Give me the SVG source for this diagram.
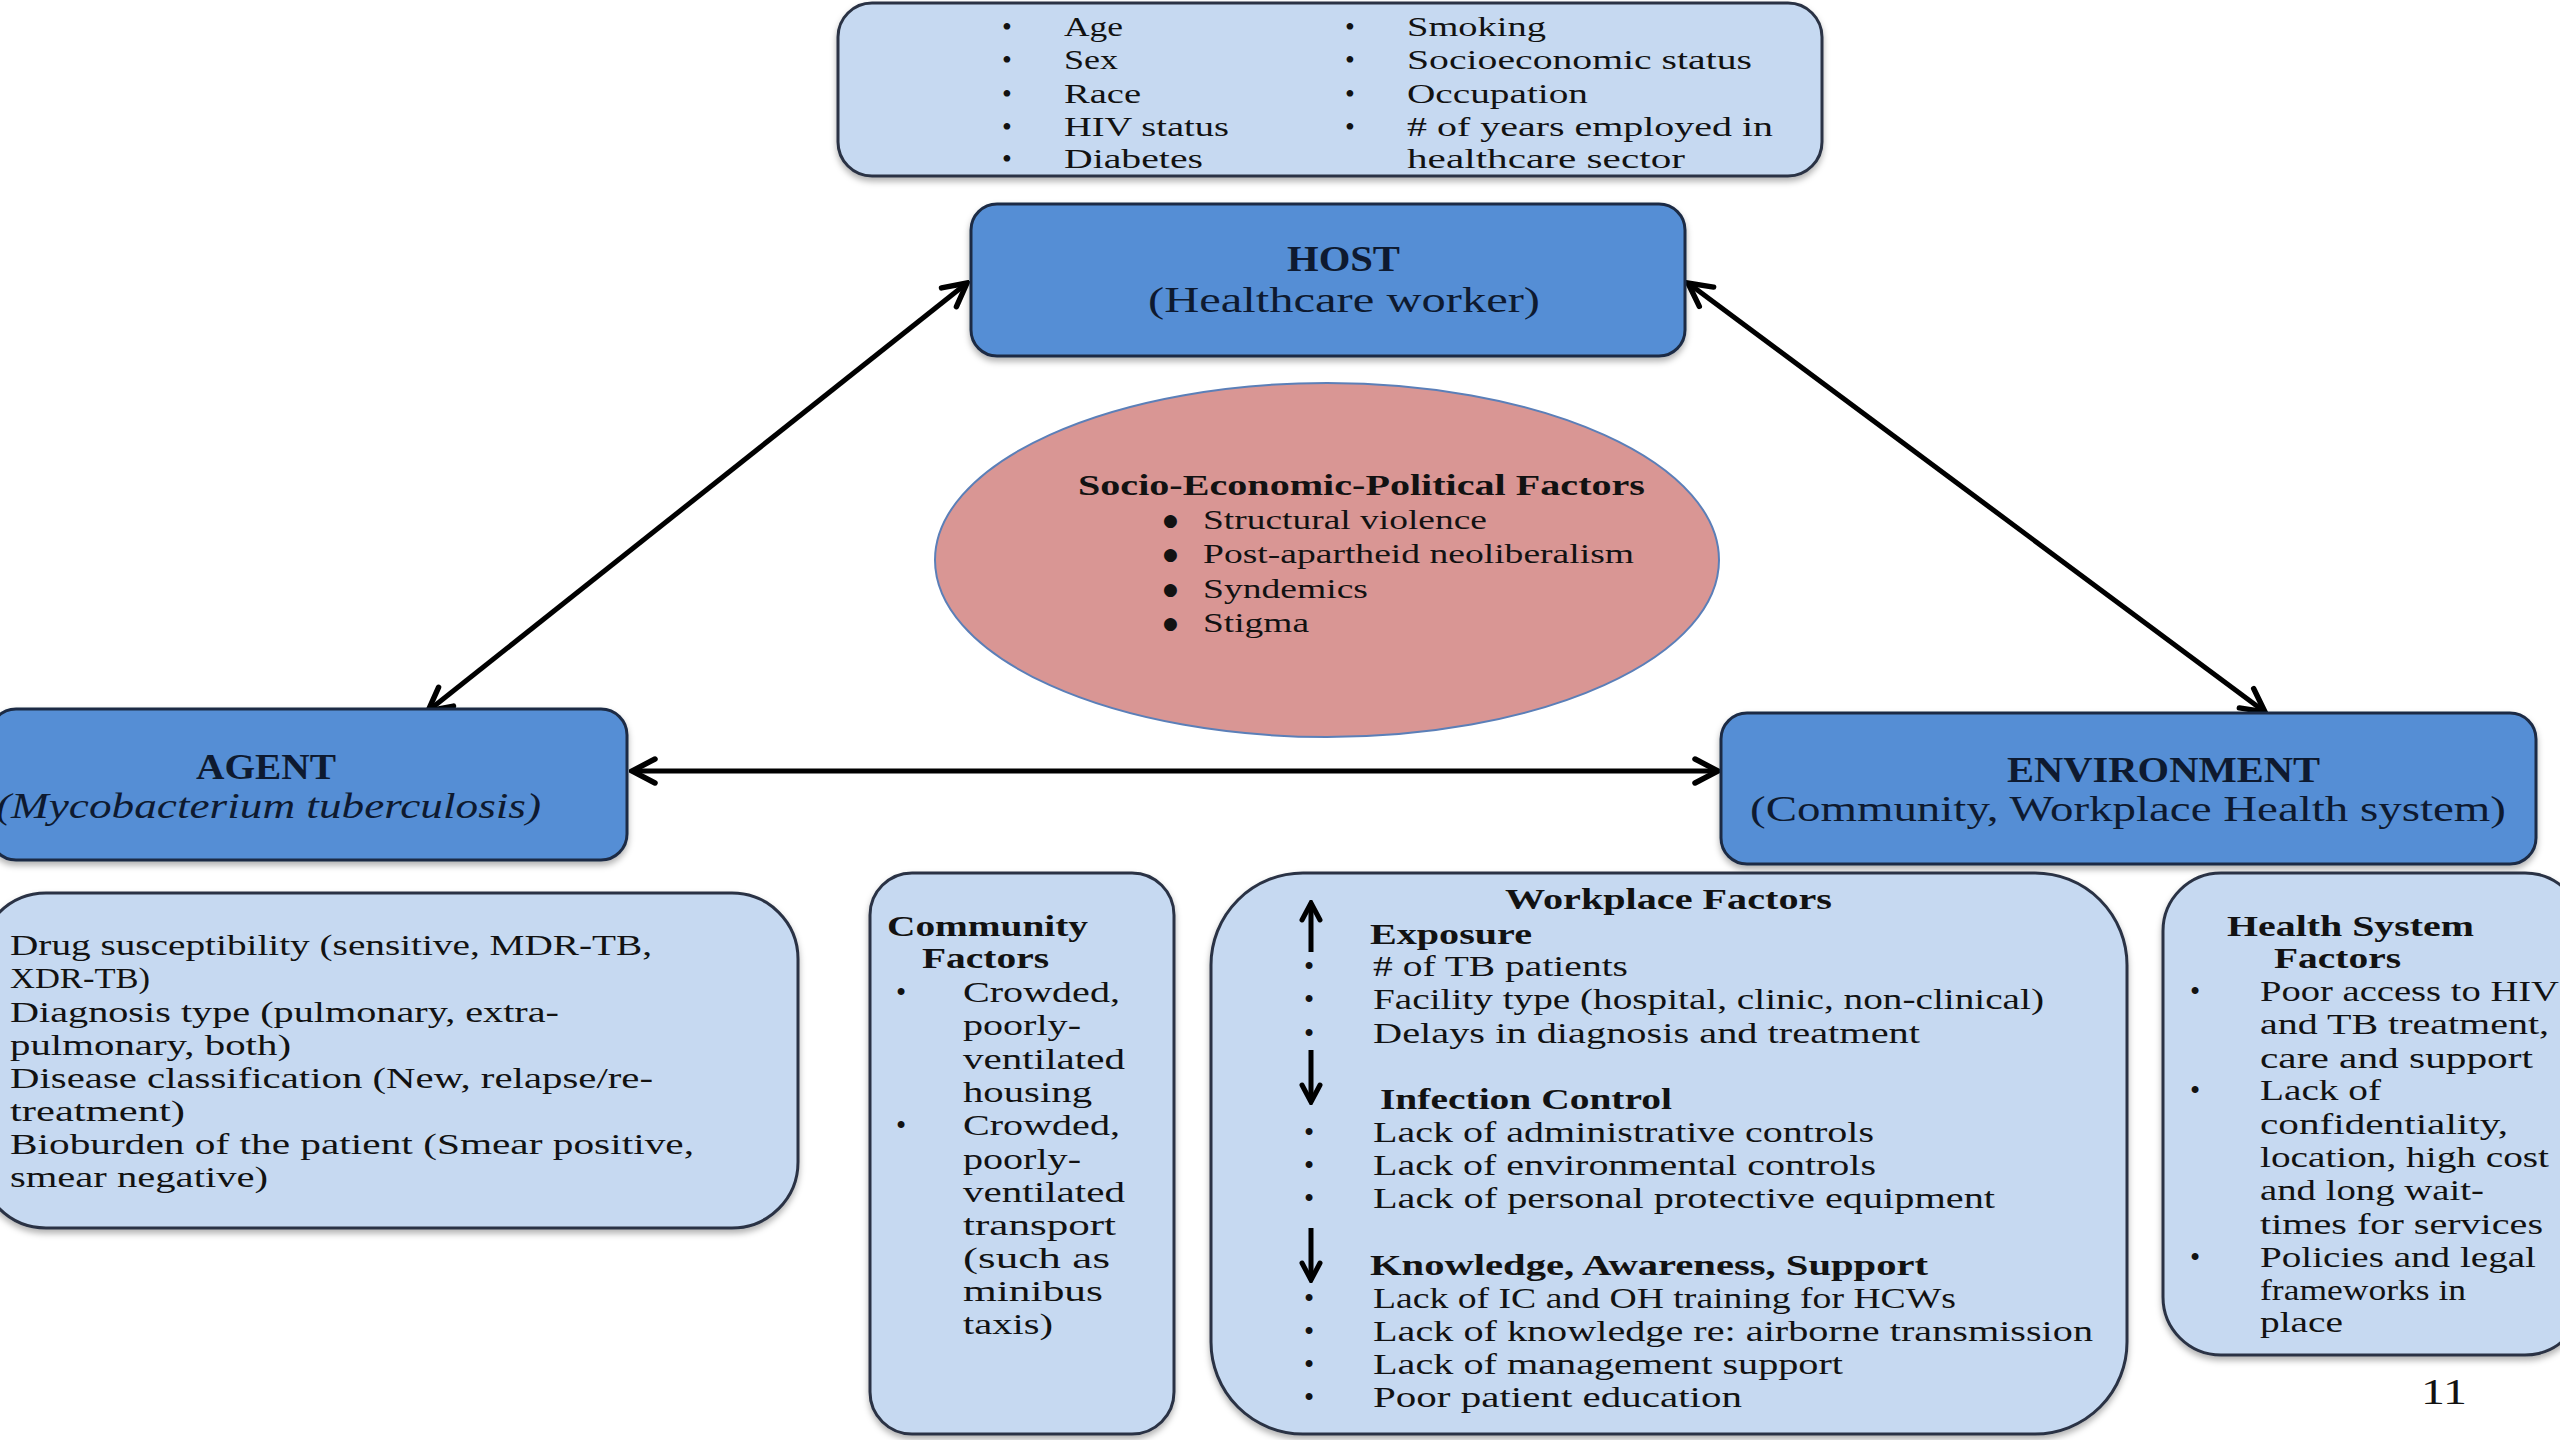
<svg xmlns="http://www.w3.org/2000/svg" width="2560" height="1440" viewBox="0 0 2560 1440">
  <defs>
    <style>
      .txt { font-family: "Liberation Serif", "DejaVu Serif", serif; fill: #121212; white-space: pre; }
      .navy { fill: #0E1A30; }
      .b { font-weight: bold; }
      .i { font-style: italic; }
      .s28 { font-size: 28px; }
      .s29 { font-size: 29px; }
      .s30 { font-size: 30px; }
      .s36 { font-size: 36px; }
      .dot { font-family: "DejaVu Sans", sans-serif; font-size: 17px; fill: #121212; }
      .light { fill: #C6D9F1; stroke: #2A3344; stroke-width: 3; }
      .main { fill: #558ED5; stroke: #1C2C44; stroke-width: 3; }
      .conn { stroke: #000; stroke-width: 5; fill: none; }
      .mini { stroke: #000; stroke-width: 5; fill: none; }
    </style>
    <filter id="shadow" x="-5%" y="-5%" width="110%" height="120%">
      <feDropShadow dx="0" dy="4" stdDeviation="3" flood-color="#000" flood-opacity="0.3"/>
    </filter>
    <marker id="chev" viewBox="0 0 32 32" refX="29" refY="16" markerWidth="32" markerHeight="32" markerUnits="userSpaceOnUse" orient="auto-start-reverse">
      <path d="M6,4 L29,16 L6,28" fill="none" stroke="#000" stroke-width="5.5" stroke-linejoin="miter" stroke-linecap="round"/>
    </marker>
    <marker id="chevSmall" viewBox="0 0 24 24" refX="21" refY="12" markerWidth="24" markerHeight="24" markerUnits="userSpaceOnUse" orient="auto">
      <path d="M4,3 L21,12 L4,21" fill="none" stroke="#000" stroke-width="5" stroke-linecap="round"/>
    </marker>
  </defs>

  <rect x="0" y="0" width="2560" height="1440" fill="#FFFFFF"/>

  <!-- Host attributes -->
  <g id="host-attributes">
    <rect class="light" x="838" y="3" width="984" height="173" rx="34" filter="url(#shadow)"/>
    <g class="txt s28">
      <text x="1002" y="36">•</text>
      <text x="1002" y="69">•</text>
      <text x="1002" y="103">•</text>
      <text x="1002" y="136">•</text>
      <text x="1002" y="168">•</text>
      <text x="1064" y="36" textLength="59" lengthAdjust="spacingAndGlyphs">Age</text>
      <text x="1064" y="69" textLength="54" lengthAdjust="spacingAndGlyphs">Sex</text>
      <text x="1064" y="103" textLength="77" lengthAdjust="spacingAndGlyphs">Race</text>
      <text x="1064" y="136" textLength="165" lengthAdjust="spacingAndGlyphs">HIV status</text>
      <text x="1064" y="168" textLength="139" lengthAdjust="spacingAndGlyphs">Diabetes</text>
      <text x="1345" y="36">•</text>
      <text x="1345" y="69">•</text>
      <text x="1345" y="103">•</text>
      <text x="1345" y="136">•</text>
      <text x="1407" y="36" textLength="139" lengthAdjust="spacingAndGlyphs">Smoking</text>
      <text x="1407" y="69" textLength="345" lengthAdjust="spacingAndGlyphs">Socioeconomic status</text>
      <text x="1407" y="103" textLength="181" lengthAdjust="spacingAndGlyphs">Occupation</text>
      <text x="1407" y="136" textLength="366" lengthAdjust="spacingAndGlyphs"># of years employed in</text>
      <text x="1407" y="168" textLength="278" lengthAdjust="spacingAndGlyphs">healthcare sector</text>
    </g>
  </g>

  <!-- Connectors of the epidemiological triangle -->
  <g id="connectors">
    <line class="conn" x1="967" y1="283" x2="428" y2="711" marker-start="url(#chev)" marker-end="url(#chev)"/>
    <line class="conn" x1="1688" y1="283" x2="2265" y2="712" marker-start="url(#chev)" marker-end="url(#chev)"/>
    <line class="conn" x1="632" y1="771" x2="1718" y2="771" marker-start="url(#chev)" marker-end="url(#chev)"/>
  </g>

  <!-- HOST -->
  <g id="host">
    <rect class="main" x="971" y="204" width="714" height="152" rx="26" filter="url(#shadow)"/>
    <text class="txt navy b s36" x="1287" y="271" textLength="113" lengthAdjust="spacingAndGlyphs">HOST</text>
    <text class="txt navy s36" x="1148" y="312" textLength="392" lengthAdjust="spacingAndGlyphs">(Healthcare worker)</text>
  </g>

  <!-- Socio-economic-political factors -->
  <g id="socio-factors">
    <ellipse cx="1327" cy="560" rx="392" ry="177" fill="#D99694" stroke="#5B7FB8" stroke-width="2"/>
    <text class="txt b s29" x="1078" y="495" textLength="567" lengthAdjust="spacingAndGlyphs">Socio-Economic-Political Factors</text>
    <g class="dot">
      <text x="1163" y="526">●</text>
      <text x="1163" y="560">●</text>
      <text x="1163" y="595">●</text>
      <text x="1163" y="629">●</text>
    </g>
    <g class="txt s28">
      <text x="1203" y="529" textLength="284" lengthAdjust="spacingAndGlyphs">Structural violence</text>
      <text x="1203" y="563" textLength="431" lengthAdjust="spacingAndGlyphs">Post-apartheid neoliberalism</text>
      <text x="1203" y="598" textLength="165" lengthAdjust="spacingAndGlyphs">Syndemics</text>
      <text x="1203" y="632" textLength="106" lengthAdjust="spacingAndGlyphs">Stigma</text>
    </g>
  </g>

  <!-- AGENT -->
  <g id="agent">
    <rect class="main" x="-10" y="709" width="637" height="151" rx="26" filter="url(#shadow)"/>
    <text class="txt navy b s36" x="196" y="779" textLength="140" lengthAdjust="spacingAndGlyphs">AGENT</text>
    <text class="txt navy i s36" x="-4" y="818" textLength="545" lengthAdjust="spacingAndGlyphs">(Mycobacterium tuberculosis)</text>
  </g>

  <!-- ENVIRONMENT -->
  <g id="environment">
    <rect class="main" x="1721" y="713" width="815" height="151" rx="26" filter="url(#shadow)"/>
    <text class="txt navy b s36" x="2007" y="782" textLength="313" lengthAdjust="spacingAndGlyphs">ENVIRONMENT</text>
    <text class="txt navy s36" x="1750" y="821" textLength="756" lengthAdjust="spacingAndGlyphs">(Community, Workplace Health system)</text>
  </g>

  <!-- Agent factors -->
  <g id="agent-factors">
    <rect class="light" x="-20" y="893" width="818" height="335" rx="66" filter="url(#shadow)"/>
    <g class="txt s29">
      <text x="10" y="955" textLength="642" lengthAdjust="spacingAndGlyphs">Drug susceptibility  (sensitive, MDR-TB,</text>
      <text x="10" y="988" textLength="140" lengthAdjust="spacingAndGlyphs">XDR-TB)</text>
      <text x="10" y="1022" textLength="549" lengthAdjust="spacingAndGlyphs">Diagnosis type (pulmonary, extra-</text>
      <text x="10" y="1055" textLength="281" lengthAdjust="spacingAndGlyphs">pulmonary, both)</text>
      <text x="10" y="1088" textLength="643" lengthAdjust="spacingAndGlyphs">Disease classification  (New, relapse/re-</text>
      <text x="10" y="1121" textLength="175" lengthAdjust="spacingAndGlyphs">treatment)</text>
      <text x="10" y="1154" textLength="684" lengthAdjust="spacingAndGlyphs">Bioburden of the patient  (Smear positive,</text>
      <text x="10" y="1187" textLength="258" lengthAdjust="spacingAndGlyphs">smear negative)</text>
    </g>
  </g>

  <!-- Community factors -->
  <g id="community-factors">
    <rect class="light" x="870" y="873" width="304" height="561" rx="42" filter="url(#shadow)"/>
    <text class="txt b s29" x="887" y="936" textLength="201" lengthAdjust="spacingAndGlyphs">Community</text>
    <text class="txt b s29" x="922" y="968" textLength="127" lengthAdjust="spacingAndGlyphs">Factors</text>
    <g class="txt s29">
      <text x="896" y="1002">•</text>
      <text x="896" y="1135">•</text>
      <text x="963" y="1002" textLength="157" lengthAdjust="spacingAndGlyphs">Crowded,</text>
      <text x="963" y="1035" textLength="118" lengthAdjust="spacingAndGlyphs">poorly-</text>
      <text x="963" y="1069" textLength="162" lengthAdjust="spacingAndGlyphs">ventilated</text>
      <text x="963" y="1102" textLength="129" lengthAdjust="spacingAndGlyphs">housing</text>
      <text x="963" y="1135" textLength="157" lengthAdjust="spacingAndGlyphs">Crowded,</text>
      <text x="963" y="1169" textLength="118" lengthAdjust="spacingAndGlyphs">poorly-</text>
      <text x="963" y="1202" textLength="162" lengthAdjust="spacingAndGlyphs">ventilated</text>
      <text x="963" y="1235" textLength="153" lengthAdjust="spacingAndGlyphs">transport</text>
      <text x="963" y="1268" textLength="147" lengthAdjust="spacingAndGlyphs">(such as</text>
      <text x="963" y="1301" textLength="140" lengthAdjust="spacingAndGlyphs">minibus</text>
      <text x="963" y="1334" textLength="90" lengthAdjust="spacingAndGlyphs">taxis)</text>
    </g>
  </g>

  <!-- Workplace factors -->
  <g id="workplace-factors">
    <rect class="light" x="1211" y="873" width="916" height="561" rx="92" filter="url(#shadow)"/>
    <text class="txt b s30" x="1505" y="909" textLength="327" lengthAdjust="spacingAndGlyphs">Workplace Factors</text>
    <line class="mini" x1="1311" y1="952" x2="1311" y2="903" marker-end="url(#chevSmall)"/>
    <text class="txt b s30" x="1370" y="944" textLength="162" lengthAdjust="spacingAndGlyphs">Exposure</text>
    <g class="txt s29">
      <text x="1304" y="976">•</text>
      <text x="1304" y="1009">•</text>
      <text x="1304" y="1043">•</text>
      <text x="1373" y="976" textLength="255" lengthAdjust="spacingAndGlyphs"># of TB patients</text>
      <text x="1373" y="1009" textLength="671" lengthAdjust="spacingAndGlyphs">Facility type (hospital, clinic, non-clinical)</text>
      <text x="1373" y="1043" textLength="547" lengthAdjust="spacingAndGlyphs">Delays in diagnosis and treatment</text>
    </g>
    <line class="mini" x1="1311" y1="1050" x2="1311" y2="1102" marker-end="url(#chevSmall)"/>
    <text class="txt b s30" x="1380" y="1109" textLength="292" lengthAdjust="spacingAndGlyphs">Infection Control</text>
    <g class="txt s29">
      <text x="1304" y="1142">•</text>
      <text x="1304" y="1175">•</text>
      <text x="1304" y="1208">•</text>
      <text x="1373" y="1142" textLength="501" lengthAdjust="spacingAndGlyphs">Lack of administrative controls</text>
      <text x="1373" y="1175" textLength="503" lengthAdjust="spacingAndGlyphs">Lack of environmental controls</text>
      <text x="1373" y="1208" textLength="622" lengthAdjust="spacingAndGlyphs">Lack of personal protective equipment</text>
    </g>
    <line class="mini" x1="1311" y1="1228" x2="1311" y2="1280" marker-end="url(#chevSmall)"/>
    <text class="txt b s30" x="1370" y="1275" textLength="558" lengthAdjust="spacingAndGlyphs">Knowledge, Awareness, Support</text>
    <g class="txt s29">
      <text x="1304" y="1308">•</text>
      <text x="1304" y="1341">•</text>
      <text x="1304" y="1374">•</text>
      <text x="1304" y="1407">•</text>
      <text x="1373" y="1308" textLength="583" lengthAdjust="spacingAndGlyphs">Lack of IC and OH training for HCWs</text>
      <text x="1373" y="1341" textLength="720" lengthAdjust="spacingAndGlyphs">Lack of knowledge re: airborne transmission</text>
      <text x="1373" y="1374" textLength="470" lengthAdjust="spacingAndGlyphs">Lack of management support</text>
      <text x="1373" y="1407" textLength="369" lengthAdjust="spacingAndGlyphs">Poor patient education</text>
    </g>
  </g>

  <!-- Health system factors -->
  <g id="health-system-factors">
    <rect class="light" x="2163" y="873" width="420" height="482" rx="58" filter="url(#shadow)"/>
    <text class="txt b s29" x="2227" y="936" textLength="247" lengthAdjust="spacingAndGlyphs">Health System</text>
    <text class="txt b s29" x="2274" y="968" textLength="127" lengthAdjust="spacingAndGlyphs">Factors</text>
    <g class="txt s29">
      <text x="2190" y="1001">•</text>
      <text x="2190" y="1100">•</text>
      <text x="2190" y="1267">•</text>
      <text x="2260" y="1001" textLength="299" lengthAdjust="spacingAndGlyphs">Poor access to HIV</text>
      <text x="2260" y="1034" textLength="289" lengthAdjust="spacingAndGlyphs">and TB treatment,</text>
      <text x="2260" y="1068" textLength="273" lengthAdjust="spacingAndGlyphs">care and support</text>
      <text x="2260" y="1100" textLength="121" lengthAdjust="spacingAndGlyphs">Lack of</text>
      <text x="2260" y="1134" textLength="248" lengthAdjust="spacingAndGlyphs">confidentiality,</text>
      <text x="2260" y="1167" textLength="289" lengthAdjust="spacingAndGlyphs">location, high cost</text>
      <text x="2260" y="1200" textLength="224" lengthAdjust="spacingAndGlyphs">and long wait-</text>
      <text x="2260" y="1234" textLength="283" lengthAdjust="spacingAndGlyphs">times for services</text>
      <text x="2260" y="1267" textLength="276" lengthAdjust="spacingAndGlyphs">Policies and legal</text>
      <text x="2260" y="1300" textLength="206" lengthAdjust="spacingAndGlyphs">frameworks in</text>
      <text x="2260" y="1332" textLength="83" lengthAdjust="spacingAndGlyphs">place</text>
    </g>
  </g>

  <!-- Slide number -->
  <text class="txt s36" x="2421" y="1404" textLength="46" lengthAdjust="spacingAndGlyphs">11</text>
</svg>
